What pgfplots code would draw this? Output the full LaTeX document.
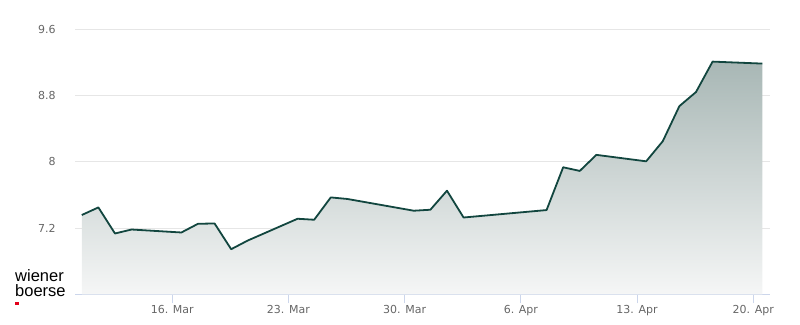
\documentclass[border=0pt]{standalone}
\usepackage{pgfplots}
\pgfplotsset{compat=1.18}
\usepackage{fontspec}
\setmainfont{DejaVu Sans}
\newfontfamily\logofont{Liberation Sans}
\definecolor{linec}{HTML}{12463F}
\definecolor{gridc}{HTML}{E6E6E6}
\definecolor{axisc}{HTML}{CCD6EB}
\definecolor{labc}{HTML}{666666}
\definecolor{topc}{RGB}{168,183,181}
\definecolor{botc}{RGB}{245,246,246}
\definecolor{logored}{HTML}{E2001A}
\begin{document}
\begin{tikzpicture}[x=1bp,y=1bp]
\path[use as bounding box] (0,0) rectangle (800,324);
\begin{axis}[
  at={(75.3bp,29.7bp)}, anchor=south west,
  scale only axis, width=694.7bp, height=264.8bp,
  xmin=-5.84, xmax=36.01, ymin=6.4, ymax=9.6,
  axis x line=bottom, axis y line=left,
  axis line style={-},
  x axis line style={draw=axisc, line width=1bp},
  y axis line style={draw=none},
  ymajorgrids, grid style={draw=gridc, line width=1bp},
  ytick={7.2,8,8.8,9.6},
  yticklabels={7.2,8,8.8,9.6},
  ytick style={draw=none},
  xtick={0,7,14,21,28,35},
  xticklabels={16. Mar,23. Mar,30. Mar,6. Apr,13. Apr,20. Apr},
  xtick align=outside,
  xtick style={draw=axisc, line width=1bp},
  major tick length=9bp,
  tick label style={font=\fontsize{11bp}{13bp}\selectfont, text=labc},
  yticklabel style={anchor=east, inner sep=0pt, xshift=-15bp},
  xticklabel style={anchor=north, inner sep=0pt, yshift=-2bp},
  clip=false,
]
\addplot[draw=none, top color=topc, bottom color=botc] coordinates {
(-5.45,7.358) (-4.45,7.450) (-3.45,7.135) (-2.45,7.183)
(0.55,7.147) (1.55,7.252) (2.55,7.256) (3.55,6.945) (4.55,7.050)
(7.55,7.313) (8.55,7.301) (9.55,7.571) (10.55,7.552)
(14.55,7.410) (15.55,7.422) (16.55,7.652) (17.55,7.328)
(22.55,7.418) (23.55,7.935) (24.55,7.891) (25.55,8.085)
(28.55,8.007) (29.55,8.250) (30.55,8.674) (31.55,8.844) (32.55,9.212)
(35.55,9.188)
} \closedcycle;
\addplot[draw=linec, line width=1.8bp, line join=round, mark=none] coordinates {
(-5.45,7.358) (-4.45,7.450) (-3.45,7.135) (-2.45,7.183)
(0.55,7.147) (1.55,7.252) (2.55,7.256) (3.55,6.945) (4.55,7.050)
(7.55,7.313) (8.55,7.301) (9.55,7.571) (10.55,7.552)
(14.55,7.410) (15.55,7.422) (16.55,7.652) (17.55,7.328)
(22.55,7.418) (23.55,7.935) (24.55,7.891) (25.55,8.085)
(28.55,8.007) (29.55,8.250) (30.55,8.674) (31.55,8.844) (32.55,9.212)
(35.55,9.188)
};
\end{axis}
\node[anchor=south west, inner sep=0pt, align=left, font=\logofont\fontsize{16.5bp}{14.7bp}\selectfont] at (15,27.3) {wiener\\boerse};
\fill[logored] (15,19) rectangle (19,22.5);
\end{tikzpicture}
\end{document}
